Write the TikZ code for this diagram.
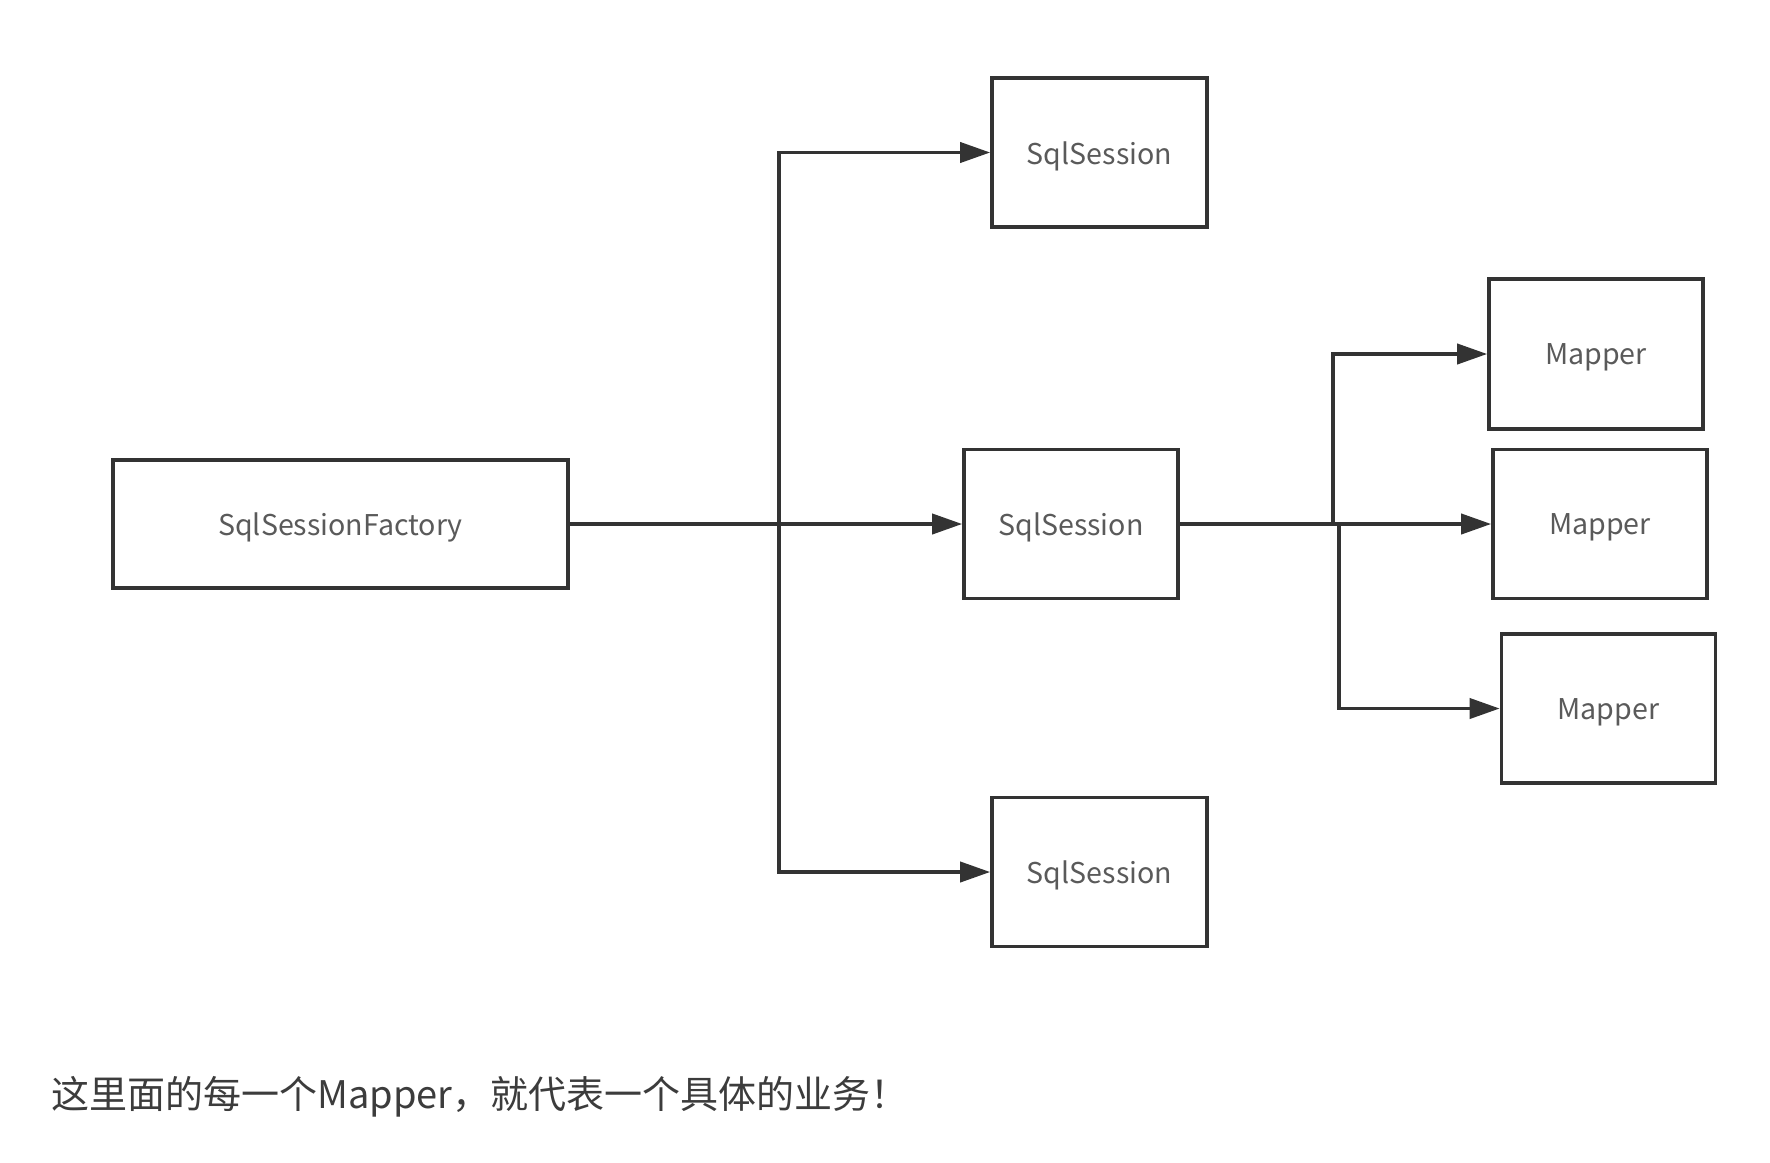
\documentclass[tikz,border=0pt]{standalone}
\usepackage{fontspec}
\setmainfont{Noto Sans CJK SC}
\usetikzlibrary{arrows.meta}
\definecolor{linec}{HTML}{333333}
\definecolor{labc}{HTML}{5A5A5A}
\definecolor{txtc}{HTML}{3C3C3C}
\newcommand\lbl[1]{\raisebox{-1.8pt}[\height][\depth]{#1}}
\tikzset{
  box/.style={draw=linec, line width=1.8pt, fill=white, text=labc,
    font=\fontsize{14.3}{17}\selectfont, inner sep=0pt},
  conn/.style={draw=linec, line width=1.9pt,
    -{Triangle[length=15pt,width=10pt]}},
}
\begin{document}
\begin{tikzpicture}[x=0.5pt,y=-0.5pt]
\useasboundingbox[fill=white] (0,0) rectangle (1770,1162);
\node[box, minimum width=227.5pt, minimum height=64pt] (f) at (340.5,524) {\lbl{SqlSessionFactory}};
\node[box, minimum width=107.5pt, minimum height=74.5pt] (s1) at (1099.5,152.5) {\lbl{SqlSession}};
\node[box, minimum width=107pt, minimum height=74.5pt] (s2) at (1071,524) {\lbl{SqlSession}};
\node[box, minimum width=107.5pt, minimum height=74.5pt] (s3) at (1099.5,872) {\lbl{SqlSession}};
\node[box, minimum width=107pt, minimum height=75pt] (m1) at (1596,354) {\lbl{Mapper}};
\node[box, minimum width=107pt, minimum height=74.5pt] (m2) at (1600,524) {\lbl{Mapper}};
\node[box, minimum width=107pt, minimum height=74.5pt] (m3) at (1608.5,708.5) {\lbl{Mapper}};
\coordinate (j1) at (779,524);
\coordinate (j2) at (1333,524);
\coordinate (j3) at (1339,524);
\draw[conn] (f.east) -- (s2.west);
\draw[conn] (j1) |- (s1.west);
\draw[conn] (j1) |- (s3.west);
\draw[conn] (s2.east) -- (m2.west);
\draw[conn] (j2) |- (m1.west);
\draw[conn] (j3) |- (m3.west);
\node[anchor=west, text=txtc, font=\fontsize{19}{22}\selectfont, inner sep=0pt] (cap) at (51,1097) {这里面的每一个Mapper，就代表一个具体的业务！};
\end{tikzpicture}
\end{document}
